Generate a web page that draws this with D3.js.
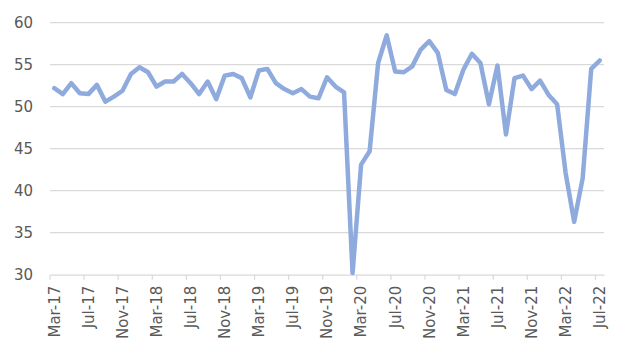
<!DOCTYPE html>
<html><head><meta charset="utf-8">
<script src="https://cdn.jsdelivr.net/npm/d3@7"></script>
<style>html,body{margin:0;padding:0;background:#fff;}svg{display:block;}</style>
</head><body>
<svg id="chart" width="627" height="357"></svg>
<script>
const months = ["Mar-17","Apr-17","May-17","Jun-17","Jul-17","Aug-17","Sep-17","Oct-17","Nov-17","Dec-17",
"Jan-18","Feb-18","Mar-18","Apr-18","May-18","Jun-18","Jul-18","Aug-18","Sep-18","Oct-18","Nov-18","Dec-18",
"Jan-19","Feb-19","Mar-19","Apr-19","May-19","Jun-19","Jul-19","Aug-19","Sep-19","Oct-19","Nov-19","Dec-19",
"Jan-20","Feb-20","Mar-20","Apr-20","May-20","Jun-20","Jul-20","Aug-20","Sep-20","Oct-20","Nov-20","Dec-20",
"Jan-21","Feb-21","Mar-21","Apr-21","May-21","Jun-21","Jul-21","Aug-21","Sep-21","Oct-21","Nov-21","Dec-21",
"Jan-22","Feb-22","Mar-22","Apr-22","May-22","Jun-22","Jul-22"];
const values = [52.2,51.5,52.8,51.6,51.5,52.6,50.6,51.2,51.9,53.9,
54.7,54.1,52.4,53.0,53.0,53.9,52.8,51.5,53.0,50.9,53.7,53.9,
53.4,51.1,54.3,54.5,52.8,52.1,51.6,52.1,51.2,51.0,53.5,52.4,
51.7,30.2,43.1,44.7,55.2,58.5,54.2,54.1,54.8,56.8,57.8,56.4,
52.0,51.5,54.4,56.3,55.2,50.3,54.9,46.7,53.4,53.7,52.1,53.1,
51.4,50.3,42.1,36.3,41.5,54.5,55.5];
const tickLabels = ["Mar-17","Jul-17","Nov-17","Mar-18","Jul-18","Nov-18","Mar-19","Jul-19","Nov-19",
"Mar-20","Jul-20","Nov-20","Mar-21","Jul-21","Nov-21","Mar-22","Jul-22"];
const yTicks = [30,35,40,45,50,55,60];

const svg = d3.select("#chart");
const mLeft = 50, mRight = 604, mTop = 22.7, mBottom = 274.7;
const x = d3.scaleBand().domain(months).range([mLeft, mRight]).paddingInner(0).paddingOuter(0);
const y = d3.scaleLinear().domain([30, 60]).range([mBottom, mTop]);
const font = "DejaVu Sans, sans-serif";

// gridlines
svg.append("g").selectAll("line").data(yTicks.filter(d => d > 30)).join("line")
  .attr("x1", mLeft).attr("x2", mRight)
  .attr("y1", d => y(d)).attr("y2", d => y(d))
  .attr("stroke", "#d9d9d9").attr("stroke-width", 1.2);

// y labels
svg.append("g").selectAll("text").data(yTicks).join("text")
  .attr("x", 33).attr("y", d => y(d)).attr("dy", "0.36em")
  .attr("text-anchor", "end").attr("font-family", font).attr("font-size", 15)
  .attr("fill", "#595959").text(d => d);

// x axis
const xAxis = d3.axisBottom(x).tickValues(tickLabels).tickSize(5).tickSizeOuter(0);
const gx = svg.append("g").attr("transform", `translate(0,${mBottom})`).call(xAxis);
gx.select(".domain").attr("stroke", "#d9d9d9").attr("stroke-width", 1.2);
gx.selectAll(".tick line").attr("stroke", "#d9d9d9").attr("stroke-width", 1.2)
  .attr("transform", `translate(${-x.bandwidth()/2},0)`);
gx.selectAll(".tick text")
  .attr("font-family", font).attr("font-size", 15).attr("fill", "#595959")
  .attr("text-anchor", "end").attr("transform", "rotate(-90)")
  .attr("x", -11).attr("y", 0).attr("dy", "0.36em");

// line
const line = d3.line().x((d, i) => x(months[i]) + x.bandwidth() / 2).y(d => y(d));
svg.append("path").datum(values).attr("d", line)
  .attr("fill", "none").attr("stroke", "#8faadc").attr("stroke-width", 4.5)
  .attr("stroke-linejoin", "round").attr("stroke-linecap", "round");
</script>
</body></html>
